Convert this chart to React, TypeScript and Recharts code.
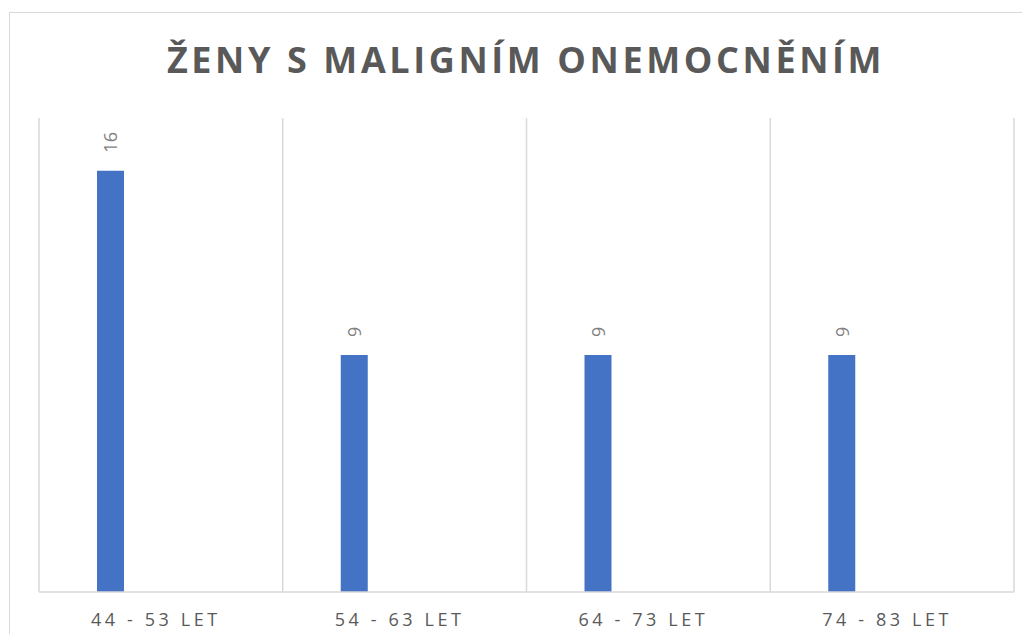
import React from 'react';
import { BarChart, Bar, XAxis, YAxis, CartesianGrid, LabelList } from 'recharts';

const categories = ['44 - 53 LET', '54 - 63 LET', '64 - 73 LET', '74 - 83 LET'];
const zenyValues = [16, 9, 9, 9];
// empty second series, keeps the bars on the left of each group like the original
const emptyValues = [null, null, null, null];

const data = categories.map((name, i) => ({
  name,
  zeny: zenyValues[i],
  empty: emptyValues[i],
}));

const FONT = '"Open Sans", "DejaVu Sans", sans-serif';

const AxisTick = (props: any) => {
  const { x, y, payload } = props;
  return (
    <text
      x={x - 5}
      y={y + 34}
      textAnchor="middle"
      fill="#595959"
      fontSize={18}
      fontFamily={FONT}
      letterSpacing={3.6}
    >
      {payload.value}
    </text>
  );
};

const BarLabel = (props: any) => {
  const { x, y, width, value } = props;
  if (value == null) return null;
  const cx = x + width / 2;
  const ty = y - 18;
  return (
    <text
      x={cx}
      y={ty}
      transform={`rotate(-90, ${cx}, ${ty})`}
      textAnchor="start"
      dominantBaseline="central"
      fill="#7f7f7f"
      fontSize={18}
      fontFamily={FONT}
    >
      {value}
    </text>
  );
};

const App: React.FC = () => {
  return (
    <div
      style={{
        position: 'relative',
        margin: -8,
        width: 1030,
        height: 642,
        overflow: 'hidden',
        background: '#ffffff',
      }}
    >
      <div
        style={{
          position: 'absolute',
          left: 9,
          top: 12,
          width: 1100,
          height: 700,
          border: '1px solid #d9d9d9',
        }}
      />
      <svg
        width={1030}
        height={100}
        style={{ position: 'absolute', left: 0, top: 0 }}
      >
        <text
          x={526}
          y={73}
          textAnchor="middle"
          fill="#595959"
          fontSize={36}
          fontWeight={700}
          fontFamily={FONT}
          letterSpacing={3.6}
        >
          ŽENY S MALIGNÍM ONEMOCNĚNÍM
        </text>
      </svg>
      <div style={{ position: 'absolute', left: 0, top: 0 }}>
        <BarChart
          width={1030}
          height={642}
          data={data}
          margin={{ top: 118, right: 16, bottom: 0, left: 39 }}
          barSize={27}
          barGap={74}
        >
          <CartesianGrid
            horizontal={false}
            stroke="#d9d9d9"
            strokeWidth={1.5}
            verticalCoordinatesGenerator={({ offset }: any) =>
              categories
                .map((_, i) => offset.left + (i * offset.width) / categories.length)
                .concat(offset.left + offset.width)
            }
          />
          <XAxis
            dataKey="name"
            height={50}
            axisLine={{ stroke: '#d9d9d9', strokeWidth: 1.5 }}
            tickLine={false}
            tickSize={0}
            tickMargin={0}
            tick={<AxisTick />}
            interval={0}
          />
          <YAxis hide domain={[0, 18]} />
          <Bar dataKey="zeny" fill="#4472c4" isAnimationActive={false}>
            <LabelList dataKey="zeny" content={<BarLabel />} />
          </Bar>
          <Bar dataKey="empty" fill="#ed7d31" isAnimationActive={false} />
        </BarChart>
      </div>
    </div>
  );
};

export default App;
